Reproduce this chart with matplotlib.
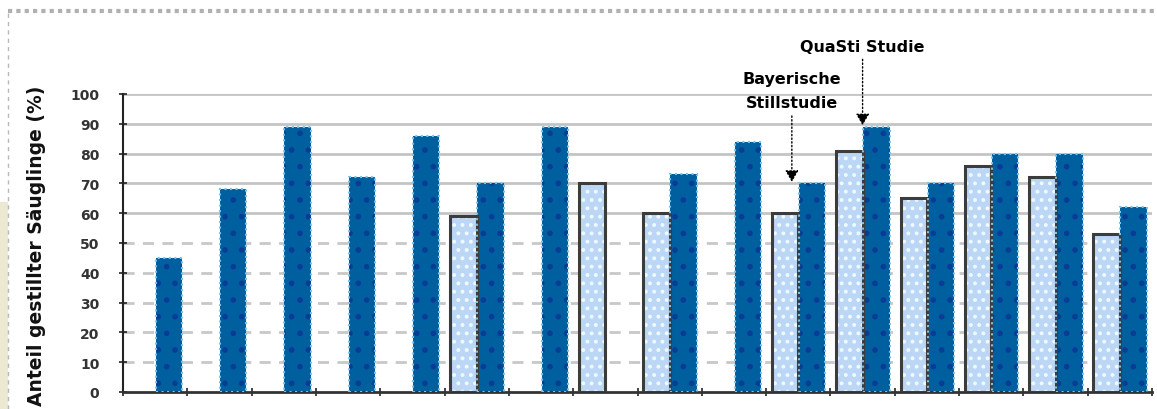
import numpy as np
import matplotlib.pyplot as plt
from matplotlib.patches import Rectangle
from matplotlib.lines import Line2D

# Werte (Anteil gestillter Säuglinge in %), 16 Studien
kategorien = np.arange(16)
werte_hell = [np.nan, np.nan, np.nan, np.nan, np.nan, 59, np.nan, 70,
              60, np.nan, 60, 81, 65, 76, 72, 53]
werte_dunkel = [45, 68, 89, 72, 86, 70, 89, np.nan,
                73, 84, 70, 89, 70, 80, 80, 62]
y_ticks = [0, 10, 20, 30, 40, 50, 60, 70, 80, 90, 100]

plt.rcParams["hatch.linewidth"] = 1.6

fig = plt.figure(figsize=(11.57, 4.10), dpi=100)
ax = fig.add_axes([123 / 1157, 1 - 393 / 410, 1029 / 1157, 298 / 410])

breite = 0.41
x_hell = kategorien - 0.205
x_dunkel = kategorien + 0.215

# Gitterlinien: durchgezogen ab 60, gestrichelt darunter
for v in y_ticks[1:]:
    if v >= 60:
        ax.axhline(v, color="#c4c4c4", lw=2, zorder=0)
    else:
        ax.axhline(v, color="#c8c8c8", lw=2, ls=(0, (4, 3)), zorder=0)

# helle Balken
ax.bar(x_hell, werte_hell, width=breite, color="#bcd6f6", hatch="..",
       edgecolor="#eefaff", linewidth=0, zorder=2)
ax.bar(x_hell, werte_hell, width=breite, fill=False,
       edgecolor="#3c3c3c", linewidth=2.2, zorder=3)

# dunkle Balken
ax.bar(x_dunkel, werte_dunkel, width=breite, color="#005f9e", hatch=".",
       edgecolor="#0a3c96", linewidth=0, zorder=2)
ax.bar(x_dunkel, werte_dunkel, width=breite, fill=False,
       edgecolor="#7cc3ea", linewidth=1.5, ls=":", zorder=3)

ax.set_xlim(-0.5, 15.5)
ax.set_ylim(0, 100)
ax.set_yticks(y_ticks)
ax.set_yticklabels([str(v) for v in y_ticks], fontsize=10, fontweight="bold",
                   color="#333333")
ax.set_xticks(np.arange(17) - 0.5)
ax.set_xticklabels([])
ax.tick_params(axis="both", direction="inout", length=6, width=1.2,
               color="#222222", pad=14)

for s in ["top", "right"]:
    ax.spines[s].set_visible(False)
ax.spines["left"].set_color("#222222")
ax.spines["left"].set_linewidth(1.5)
ax.spines["bottom"].set_color("#333333")
ax.spines["bottom"].set_linewidth(2)
ax.spines["bottom"].set_linestyle((0, (3, 1)))
ax.set_facecolor("none")

# Beschriftung der Studien
pfeil = dict(arrowstyle="-|>,head_width=0.35,head_length=0.6", color="black",
             lw=1, ls=":", shrinkA=2, shrinkB=0)
ax.annotate("Bayerische\nStillstudie", xy=(9.9, 70.5), xytext=(9.9, 94.5),
            ha="center", va="bottom", fontsize=11.5, fontweight="bold",
            linespacing=1.75, arrowprops=pfeil, annotation_clip=False)
ax.annotate("QuaSti Studie", xy=(11.0, 89.5), xytext=(11.0, 113.5),
            ha="center", va="bottom", fontsize=11.5, fontweight="bold",
            arrowprops=pfeil, annotation_clip=False)

fig.text(37 / 1157, 1 - 246 / 410, "Anteil gestillter Säuglinge (%)",
         rotation=90, ha="center", va="center", fontsize=13.5,
         fontweight="bold", color="#111111")

# Seitenrahmen
fig.patches.append(Rectangle((0, 0), 7 / 1157, 1 - 203 / 410,
                             transform=fig.transFigure, color="#ece8d2",
                             zorder=0))
fig.lines.append(Line2D([8 / 1157, 1], [1 - 12 / 410] * 2,
                        transform=fig.transFigure, color="#b0b0b0", lw=3,
                        ls=(0, (1, 1))))
fig.lines.append(Line2D([8 / 1157] * 2, [0, 1 - 12 / 410],
                        transform=fig.transFigure, color="#b8b8b8", lw=1,
                        ls=(0, (3, 3))))

fig.savefig("out.png", dpi=100)
